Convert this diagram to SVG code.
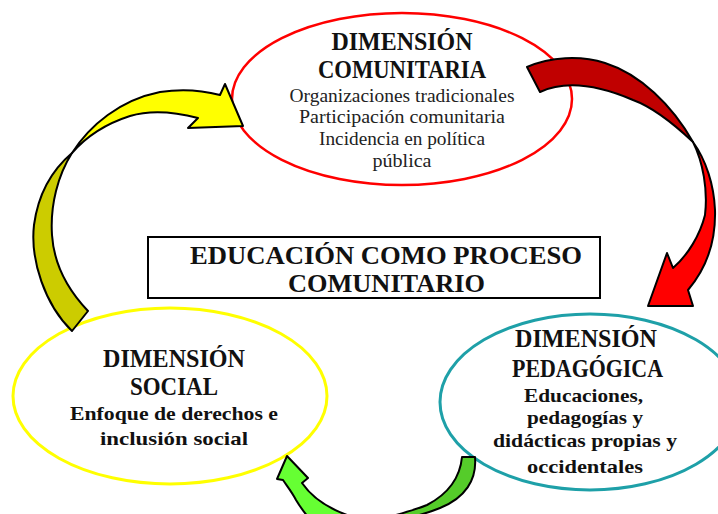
<svg xmlns="http://www.w3.org/2000/svg" width="718" height="514" viewBox="0 0 718 514">
<style>
.t{font-family:"Liberation Serif","Times New Roman",serif;font-weight:bold;font-size:25px;fill:#111;text-anchor:middle}
.s{font-family:"Liberation Serif","Times New Roman",serif;font-size:18.5px;fill:#222;text-anchor:middle}
.b{font-family:"Liberation Serif","Times New Roman",serif;font-weight:bold;font-size:19.5px;fill:#111;text-anchor:middle}
.c{stroke:#000;stroke-width:2;stroke-linejoin:round}
</style>
<rect width="718" height="514" fill="#fff"/>
<g id="comunitaria">
<ellipse cx="402" cy="99" rx="170" ry="86" fill="#fff" stroke="#ff0000" stroke-width="2.5"/>
<text class="t" x="402" y="50" textLength="141" lengthAdjust="spacingAndGlyphs">DIMENSIÓN</text>
<text class="t" x="402" y="78" textLength="168" lengthAdjust="spacingAndGlyphs">COMUNITARIA</text>
<text class="s" x="402" y="102" textLength="225" lengthAdjust="spacingAndGlyphs">Organizaciones tradicionales</text>
<text class="s" x="402" y="123" textLength="206" lengthAdjust="spacingAndGlyphs">Participación comunitaria</text>
<text class="s" x="402" y="145" textLength="166" lengthAdjust="spacingAndGlyphs">Incidencia en política</text>
<text class="s" x="402" y="167" textLength="59" lengthAdjust="spacingAndGlyphs">pública</text>
</g>
<g id="centro">
<rect x="148" y="237" width="452" height="61" fill="#fff" stroke="#000" stroke-width="2"/>
<text class="t" x="386" y="264" textLength="392" lengthAdjust="spacingAndGlyphs">EDUCACIÓN COMO PROCESO</text>
<text class="t" x="386.5" y="292" textLength="197" lengthAdjust="spacingAndGlyphs">COMUNITARIO</text>
</g>
<g id="social">
<ellipse cx="170" cy="396" rx="157" ry="88" fill="#fff" stroke="#ffff00" stroke-width="3"/>
<text class="t" x="174" y="367" textLength="142" lengthAdjust="spacingAndGlyphs">DIMENSIÓN</text>
<text class="t" x="174" y="395" textLength="88" lengthAdjust="spacingAndGlyphs">SOCIAL</text>
<text class="b" x="174" y="420" textLength="208" lengthAdjust="spacingAndGlyphs">Enfoque de derechos e</text>
<text class="b" x="174" y="445" textLength="148" lengthAdjust="spacingAndGlyphs">inclusión social</text>
</g>
<g id="pedagogica">
<ellipse cx="590" cy="402" rx="150" ry="88" fill="#fff" stroke="#1ea0a8" stroke-width="3"/>
<text class="t" x="586" y="347" textLength="142" lengthAdjust="spacingAndGlyphs">DIMENSIÓN</text>
<text class="t" x="587.5" y="377" textLength="151" lengthAdjust="spacingAndGlyphs">PEDAGÓGICA</text>
<text class="b" x="583.5" y="402" textLength="119" lengthAdjust="spacingAndGlyphs">Educaciones,</text>
<text class="b" x="585" y="424" textLength="116" lengthAdjust="spacingAndGlyphs">pedagogías y</text>
<text class="b" x="585" y="447" textLength="184" lengthAdjust="spacingAndGlyphs">didácticas propias y</text>
<text class="b" x="585" y="473" textLength="116" lengthAdjust="spacingAndGlyphs">occidentales</text>
</g>
<g id="connectors">
<path class="c" fill="#c00000" d="M527,67 C550,57 580,55 605,63 C640,74 672,105 693,142 C675,125 655,108 633,100 C605,88 570,78 540,92 Z"/>
<path class="c" fill="#ff0000" d="M693,142 C706,160 714,185 715,210 C716,245 705,270 688,290 L693,306 L648,306 L667,253 L673,268 C688,255 700,235 705,215 C708,190 703,162 693,142 Z"/>
<path class="c" fill="#cccc00" d="M72,153 C52,170 38,195 34,225 C30,260 45,305 72,331 L88,311 C68,290 54,265 52,235 C50,205 58,175 72,153 Z"/>
<path class="c" fill="#ffff00" d="M72,153 C90,125 120,100 160,92 C185,88 205,91 220,95 L225,84 L243,126 L188,128 L198,118 C175,112 150,110 130,116 C105,124 85,138 72,153 Z"/>
<path class="c" fill="#55cc2a" d="M462,457 L475,457 C477,480 465,498 440,508 C425,514 410,518 395,520 L385,518 C400,514 415,510 427,505 C448,494 460,478 462,457 Z"/>
<path class="c" fill="#66ff33" d="M287,456 L308,478 L302,483 C311,496 326,508 350,516 L360,530 L320,530 C310,520 302,510 296,500 C292,492 287,486 283,480 L277,479 Z"/>
</g>
</svg>
